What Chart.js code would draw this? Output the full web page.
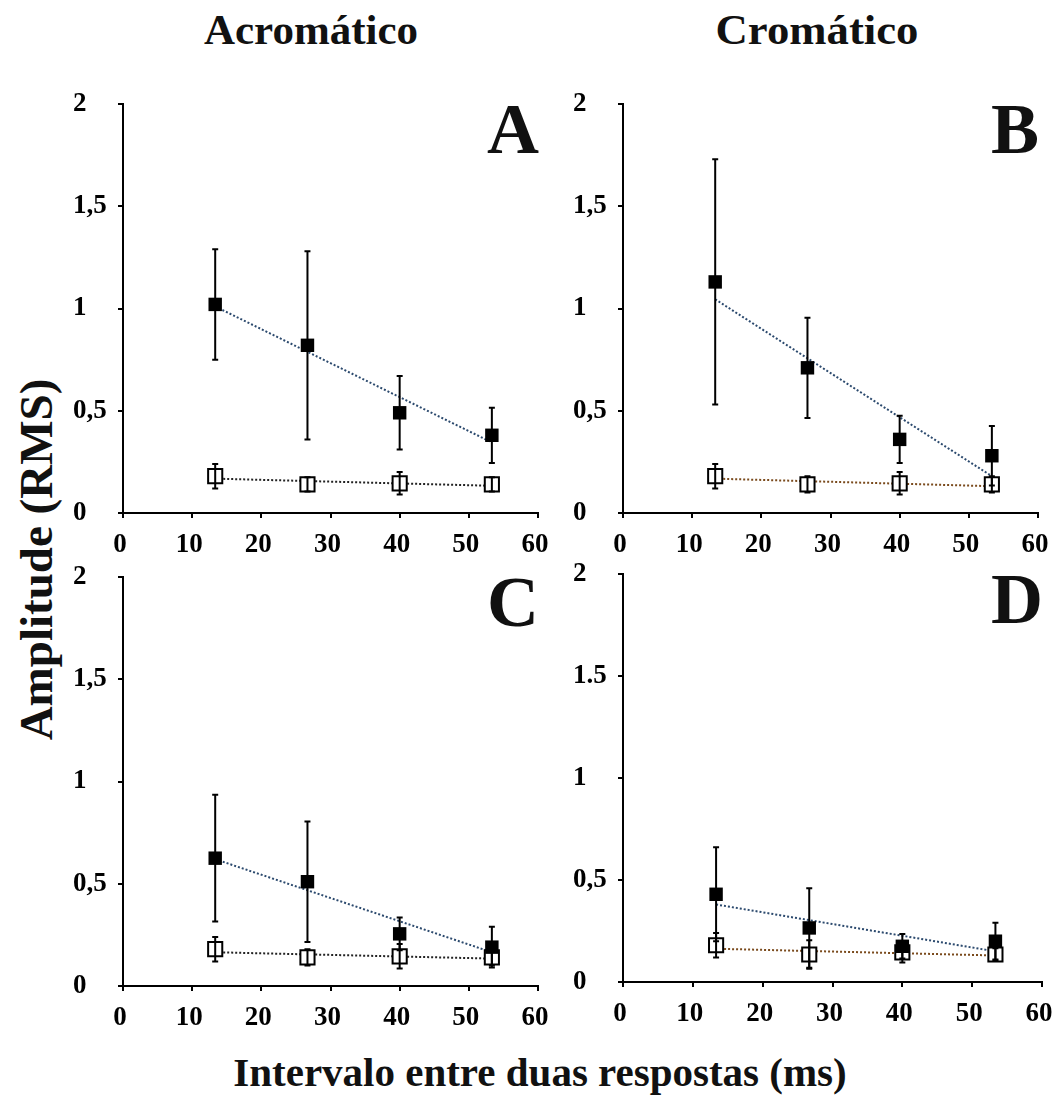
<!DOCTYPE html>
<html>
<head>
<meta charset="utf-8">
<script src="https://cdn.jsdelivr.net/npm/chart.js@4.4.1/dist/chart.umd.min.js"></script>
<style>
  body { margin: 0; background: #fff; width: 1054px; height: 1095px; position: relative; overflow: hidden; }
  canvas { position: absolute; }
  .txt { position: absolute; font-family: "Liberation Serif", "Times New Roman", serif; font-weight: bold; color: #111; white-space: nowrap; line-height: 1; text-align: center; }
</style>
</head>
<body>
<div class="txt" id="tA" style="left:111px; top:8px; width:400px; font-size:43px;">Acromático</div>
<div class="txt" id="tB" style="left:617px; top:8px; width:400px; font-size:43px; transform:scaleX(1.04);">Cromático</div>
<div class="txt" id="tY" style="left:-164px; top:536px; width:400px; font-size:47px; transform:rotate(-90deg);">Amplitude (RMS)</div>
<div class="txt" id="tX" style="left:190px; top:1053px; width:700px; font-size:40px; transform:scaleX(1.025);">Intervalo entre duas respostas (ms)</div>

<canvas id="chartA"></canvas>
<canvas id="chartB"></canvas>
<canvas id="chartC"></canvas>
<canvas id="chartD"></canvas>

<script>
// intervals between the two responses (ms)
const intervalos = [13.33, 26.67, 40, 53.33];
const trendX = [13.33, 53.33];
const xTicks = [0, 10, 20, 30, 40, 50, 60];
const yTickLabels = ['0', '0,5', '1', '1,5', '2'];
const yTickLabelsD = ['0', '0,5', '1', '1.5', '2'];

// A - acromatico (top)
const aFilled = [1.02, 0.82, 0.49, 0.38];
const aFilledErr = [0.27, 0.46, 0.18, 0.135];
const aOpen = [0.18, 0.14, 0.145, 0.14];
const aOpenErr = [0.06, 0.035, 0.055, 0.035];
const aFilledTrend = [1.01, 0.345];
const aOpenTrend = [0.168, 0.133];

// B - cromatico (top)
const bFilled = [1.13, 0.71, 0.36, 0.28];
const bFilledErr = [0.6, 0.245, 0.115, 0.145];
const bOpen = [0.18, 0.14, 0.145, 0.14];
const bOpenErr = [0.06, 0.04, 0.055, 0.04];
const bFilledTrend = [1.045, 0.18];
const bOpenTrend = [0.168, 0.131];

// C - acromatico (bottom)
const cFilled = [0.625, 0.51, 0.255, 0.19];
const cFilledErr = [0.31, 0.295, 0.08, 0.1];
const cOpen = [0.18, 0.14, 0.145, 0.14];
const cOpenErr = [0.06, 0.04, 0.06, 0.04];
const cFilledTrend = [0.62, 0.165];
const cOpenTrend = [0.165, 0.134];

// D - cromatico (bottom)
const dFilled = [0.43, 0.265, 0.175, 0.2];
const dFilledErr = [0.23, 0.195, 0.06, 0.09];
const dOpen = [0.18, 0.135, 0.145, 0.135];
const dOpenErr = [0.06, 0.07, 0.05, 0.03];
const dFilledTrend = [0.38, 0.15];
const dOpenTrend = [0.163, 0.13];

const FONT = '"Liberation Serif", "Times New Roman", serif';

// error bars drawn through the chart scales
const errorBarsPlugin = {
    id: 'errorBars',
    afterDatasetsDraw(chart) {
        const ctx = chart.ctx;
        const xs = chart.scales.x;
        const ys = chart.scales.y;
        ctx.save();
        ctx.strokeStyle = '#000';
        ctx.lineWidth = 2;
        chart.data.datasets.forEach(ds => {
            if (!ds.errors) return;
            ds.data.forEach((p, i) => {
                const e = ds.errors[i];
                const x = xs.getPixelForValue(p.x);
                const y1 = ys.getPixelForValue(p.y + e);
                const y2 = ys.getPixelForValue(p.y - e);
                ctx.beginPath();
                ctx.moveTo(x, y1);
                ctx.lineTo(x, y2);
                ctx.moveTo(x - 3, y1);
                ctx.lineTo(x + 3, y1);
                ctx.moveTo(x - 3, y2);
                ctx.lineTo(x + 3, y2);
                ctx.stroke();
            });
        });
        ctx.restore();
    }
};

const panelLetterPlugin = {
    id: 'panelLetter',
    afterDraw(chart, args, opts) {
        const ctx = chart.ctx;
        const area = chart.chartArea;
        ctx.save();
        ctx.font = 'bold 72px ' + FONT;
        ctx.fillStyle = '#111';
        ctx.textAlign = 'right';
        ctx.textBaseline = 'alphabetic';
        ctx.fillText(opts.text, area.right + 1, area.top + 49);
        ctx.restore();
    }
};

function pts(xs, ys) {
    return xs.map((x, i) => ({ x: x, y: ys[i] }));
}

function createPanel(id, box, letter, filled, filledErr, open, openErr, filledTrend, openTrend, openTrendColor, yLabels) {
    // box = plot area in page pixels
    const canvas = document.getElementById(id);
    const left = box.l - 50;
    const top = box.t - 24;
    const w = box.r + 22 - left;
    const h = box.b + 46 - top;
    canvas.style.left = left + 'px';
    canvas.style.top = top + 'px';
    canvas.style.width = w + 'px';
    canvas.style.height = h + 'px';
    canvas.width = w;
    canvas.height = h;

    return new Chart(canvas.getContext('2d'), {
        type: 'scatter',
        data: {
            datasets: [
                {
                    data: pts(intervalos, filled),
                    errors: filledErr,
                    pointStyle: 'rect',
                    pointRadius: 9.5,
                    backgroundColor: '#000',
                    borderColor: '#000',
                    borderWidth: 0,
                    showLine: false
                },
                {
                    data: pts(intervalos, open),
                    errors: openErr,
                    pointStyle: 'rect',
                    pointRadius: 10,
                    backgroundColor: '#fff',
                    borderColor: '#000',
                    borderWidth: 2,
                    showLine: false
                },
                {
                    type: 'line',
                    data: pts(trendX, filledTrend),
                    borderColor: '#2c4a6e',
                    borderWidth: 2,
                    borderDash: [2, 2],
                    pointRadius: 0,
                    fill: false
                },
                {
                    type: 'line',
                    data: pts(trendX, openTrend),
                    borderColor: openTrendColor,
                    borderWidth: 2,
                    borderDash: [2, 2],
                    pointRadius: 0,
                    fill: false
                }
            ]
        },
        options: {
            responsive: false,
            animation: false,
            events: [],
            layout: { padding: { top: 24, right: 22, left: 0, bottom: 0 } },
            plugins: {
                legend: { display: false },
                tooltip: { enabled: false },
                panelLetter: { text: letter }
            },
            scales: {
                x: {
                    type: 'linear',
                    min: 0,
                    max: 60,
                    afterBuildTicks: (scale) => { scale.ticks = xTicks.map(v => ({ value: v })); },
                    afterFit: (scale) => { scale.height = 46; scale.paddingLeft = 0; scale.paddingRight = 0; },
                    border: { display: true, color: '#000', width: 2 },
                    grid: { display: true, drawOnChartArea: false, drawTicks: true, tickLength: 5, color: '#000', lineWidth: 2 },
                    ticks: {
                        color: '#000',
                        padding: 11,
                        labelOffset: -3,
                        maxRotation: 0,
                        font: { family: FONT, size: 27, weight: 'bold' }
                    }
                },
                y: {
                    type: 'linear',
                    min: 0,
                    max: 2,
                    afterBuildTicks: (scale) => { scale.ticks = [0, 0.5, 1, 1.5, 2].map(v => ({ value: v })); },
                    afterFit: (scale) => { scale.width = 50; scale.paddingTop = 0; scale.paddingBottom = 0; },
                    border: { display: true, color: '#000', width: 2 },
                    grid: { display: true, drawOnChartArea: false, drawTicks: true, tickLength: 5, color: '#000', lineWidth: 2 },
                    ticks: {
                        color: '#000',
                        crossAlign: 'far',
                        font: { family: FONT, size: 27, weight: 'bold' },
                        callback: (value, index) => yLabels[index]
                    }
                }
            }
        },
        plugins: [errorBarsPlugin, panelLetterPlugin]
    });
}

createPanel('chartA', { l: 122.7, r: 537.7, t: 104, b: 513.3 }, 'A',
    aFilled, aFilledErr, aOpen, aOpenErr, aFilledTrend, aOpenTrend, '#222', yTickLabels);
createPanel('chartB', { l: 622.7, r: 1037.7, t: 104, b: 513.3 }, 'B',
    bFilled, bFilledErr, bOpen, bOpenErr, bFilledTrend, bOpenTrend, '#7a4a1c', yTickLabels);
createPanel('chartC', { l: 122.7, r: 537.7, t: 576.7, b: 985.7 }, 'C',
    cFilled, cFilledErr, cOpen, cOpenErr, cFilledTrend, cOpenTrend, '#222', yTickLabels);
createPanel('chartD', { l: 622.7, r: 1042.3, t: 574, b: 982.3 }, 'D',
    dFilled, dFilledErr, dOpen, dOpenErr, dFilledTrend, dOpenTrend, '#7a4a1c', yTickLabelsD);
</script>
</body>
</html>
